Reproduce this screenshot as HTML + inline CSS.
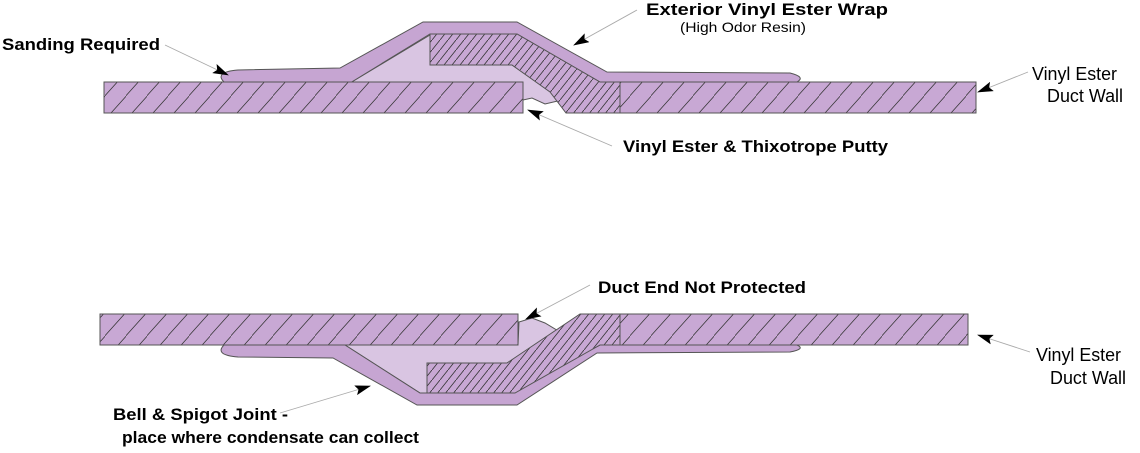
<!DOCTYPE html>
<html><head><meta charset="utf-8"><style>
html,body{margin:0;padding:0;background:#fff;}
svg{display:block;}
text{font-family:"Liberation Sans",Arial,sans-serif;fill:#000;}
.b{font-weight:bold;font-size:17px;}
.r{font-size:18px;}
</style></head><body>
<svg width="1140" height="453" viewBox="0 0 1140 453" xmlns="http://www.w3.org/2000/svg">
<defs>
<pattern id="sp" patternUnits="userSpaceOnUse" width="21" height="24">
<rect width="21" height="24" fill="#c8a8d4"/>
<path d="M-3,27 L24,-3" stroke="#333" stroke-width="0.8"/>
</pattern>
<pattern id="dn" patternUnits="userSpaceOnUse" width="8" height="10">
<rect width="8" height="10" fill="#c8a8d4"/>
<path d="M-2,12.5 L10,-2.5" stroke="#333" stroke-width="0.8"/>
</pattern>
<marker id="ah" markerWidth="16" markerHeight="10" refX="15" refY="5" orient="auto" markerUnits="userSpaceOnUse">
<path d="M0,0 L16,5 L0,10 L3,5 z" fill="#000"/>
</marker>
</defs>
<g stroke="#555" stroke-width="1">
<!-- TOP -->
<polygon points="350,83 430,35 430,65 512,65 562,100 545,104 532,98 523,100 523,83" fill="#d9c5e2"/>
<path d="M224,82 Q214,72 238,70 L340,68 L423,22 L517,22 L607,72 L790,73 Q806,77 797,82 L600,82 L517,34 L430,34 L350,83 Z" fill="#c6a5d2"/>
<rect x="104" y="82" width="419" height="31" fill="url(#sp)"/>
<polygon points="620,82 976,82 976,113 620,113" fill="url(#sp)"/>
<polygon points="430,34 517,34 600,82 620,82 620,113 566,113 550,92 512,65 430,65" fill="url(#dn)"/>
<!-- BOTTOM -->
<polygon points="345,345 420,393 427,393 427,363 507,363 560,332 545,323 532,318 519,322 518,345" fill="#d9c5e2"/>
<path d="M224,345 Q214,355 238,357 L333,358 L417,405 L517,405 L597,353 L790,352 Q806,349 797,345 L600,345 L507,393 L420,393 L345,345 Z" fill="#c6a5d2"/>
<rect x="100" y="314" width="418" height="31" fill="url(#sp)"/>
<polygon points="620,314 968,314 968,345 620,345" fill="url(#sp)"/>
<polygon points="427,363 507,363 580,314 620,314 620,345 600,345 515,393 427,393" fill="url(#dn)"/>
</g>
<!-- leaders -->
<g stroke="#aaa" stroke-width="0.9" fill="none">
<line x1="165" y1="45" x2="228" y2="75" marker-end="url(#ah)"/>
<line x1="637" y1="10" x2="574" y2="45" marker-end="url(#ah)"/>
<line x1="1028" y1="72" x2="978" y2="92" marker-end="url(#ah)"/>
<line x1="612" y1="146" x2="528" y2="110" marker-end="url(#ah)"/>
<line x1="590" y1="285" x2="526" y2="319" marker-end="url(#ah)"/>
<line x1="1030" y1="352" x2="978" y2="335" marker-end="url(#ah)"/>
<line x1="280" y1="413" x2="370" y2="386" marker-end="url(#ah)"/>
</g>
<text class="b" x="2" y="50" textLength="158" lengthAdjust="spacingAndGlyphs">Sanding Required</text>
<text class="b" x="646" y="15" textLength="242" lengthAdjust="spacingAndGlyphs">Exterior Vinyl Ester Wrap</text>
<text x="680" y="32" style="font-size:14px" textLength="126" lengthAdjust="spacingAndGlyphs">(High Odor Resin)</text>
<text class="r" x="1032" y="80" textLength="85" lengthAdjust="spacingAndGlyphs">Vinyl Ester</text>
<text class="r" x="1047" y="102" textLength="76" lengthAdjust="spacingAndGlyphs">Duct Wall</text>
<text class="b" x="623" y="152" textLength="265" lengthAdjust="spacingAndGlyphs">Vinyl Ester &amp; Thixotrope Putty</text>
<text class="b" x="598" y="293" textLength="208" lengthAdjust="spacingAndGlyphs">Duct End Not Protected</text>
<text class="r" x="1036" y="361" textLength="85" lengthAdjust="spacingAndGlyphs">Vinyl Ester</text>
<text class="r" x="1050" y="384" textLength="76" lengthAdjust="spacingAndGlyphs">Duct Wall</text>
<text class="b" x="113" y="420" textLength="175" lengthAdjust="spacingAndGlyphs">Bell &amp; Spigot Joint -</text>
<text class="b" x="122" y="443" textLength="297" lengthAdjust="spacingAndGlyphs">place where condensate can collect</text>
</svg>
</body></html>
